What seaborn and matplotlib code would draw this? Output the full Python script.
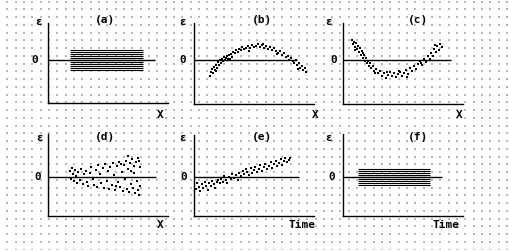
import numpy as np
import pandas as pd
import matplotlib
matplotlib.use("Agg")
import matplotlib.pyplot as plt
import seaborn as sns

# ---------------- data ----------------
panel_titles = ["(a)", "(b)", "(c)", "(d)", "(e)", "(f)"]
x_labels = ["X", "X", "X", "X", "Time", "Time"]
y_label = "ε"
zero_label = "0"

# (a) constant-variance band (horizontal lines)
band_a_y = [1.0, 0.8, 0.6, 0.4, 0.2, 0.0, -0.2, -0.4, -0.6, -0.8, -1.0]
band_a_x = [2.2, 9.5]

# (b) arch-shaped residuals
b_x = [1.6, 1.7, 1.8, 1.9, 2.0, 2.1, 2.2, 2.3, 2.4, 2.5, 2.6, 2.7, 2.8, 2.9, 3.0,
       3.1, 3.2, 3.3, 3.4, 3.5, 3.7, 3.8, 3.9, 4.1, 4.2, 4.4, 4.5, 4.7, 4.8, 5.0,
       5.2, 5.4, 5.6, 5.8, 6.0, 6.2, 6.4, 6.6, 6.8, 7.0, 7.2, 7.4, 7.6, 7.8, 8.0,
       8.2, 8.4, 8.6, 8.8, 9.0, 9.2, 9.4, 9.5, 9.7, 9.9, 10.0, 10.2, 10.3, 10.5,
       10.6, 10.8, 10.9, 11.1, 11.2, 2.2, 3.6, 5.5, 6.9, 8.3, 10.4]
b_y = [-1.6, -1.2, -0.9, -1.3, -0.7, -1.0, -0.5, -0.8, -0.2, -0.5, 0.0, -0.3, 0.1, -0.1, 0.3,
       0.0, 0.2, 0.4, 0.1, 0.5, 0.6, 0.3, 0.8, 0.7, 1.0, 0.8, 1.1, 1.0, 1.3, 1.1,
       1.2, 1.4, 1.2, 1.5, 1.3, 1.4, 1.6, 1.3, 1.5, 1.2, 1.4, 1.1, 1.3, 1.0, 1.2,
       0.9, 0.7, 0.9, 0.5, 0.7, 0.3, 0.4, 0.0, 0.2, -0.1, -0.3, 0.0, -0.5, -0.3,
       -0.8, -0.6, -1.0, -0.8, -1.2, -1.1, 0.1, 0.9, 1.6, 0.6, -0.9]

# (c) U-shaped residuals
c_x = [0.9, 1.0, 1.1, 1.2, 1.3, 1.4, 1.5, 1.6, 1.7, 1.8, 1.9, 2.0, 2.1, 2.2, 2.3,
       2.4, 2.5, 2.6, 2.7, 2.8, 3.0, 3.1, 3.3, 3.5, 3.7, 3.9, 4.1, 4.3, 4.5, 4.7,
       4.9, 5.1, 5.3, 5.5, 5.7, 5.9, 6.1, 6.3, 6.5, 6.7, 6.9, 7.1, 7.3, 7.5, 7.7,
       7.9, 8.1, 8.3, 8.5, 8.7, 8.8, 9.0, 9.1, 9.3, 9.4, 9.6, 9.7, 9.9,
       1.2, 2.0, 3.2, 4.4, 5.6, 6.4, 7.8, 9.2]
c_y = [2.0, 1.6, 1.8, 1.3, 1.7, 1.1, 1.4, 0.8, 1.2, 0.5, 0.9, 0.2, 0.5, -0.1, 0.2,
       -0.3, -0.1, -0.6, -0.3, -0.8, -0.6, -1.1, -0.9, -1.3, -1.1, -1.6, -1.3, -1.8, -1.5, -1.2,
       -1.6, -1.3, -1.7, -1.4, -1.2, -1.6, -1.3, -1.0, -1.4, -0.8, -1.1, -0.6, -0.9, -0.4, -0.1,
       -0.5, 0.1, -0.2, 0.4, 0.1, 0.7, 0.4, 1.1, 0.8, 1.4, 1.0, 1.6, 1.3,
       1.0, 0.7, -1.3, -1.2, -1.1, -1.7, -0.3, 1.5]

# (d) funnel-shaped residuals
d_x = [2.2, 2.3, 2.4, 2.5, 2.6, 2.7, 2.8, 2.9, 3.0, 3.2, 3.3, 3.5, 3.6, 3.8, 3.9,
       4.0, 4.2, 4.3, 4.5, 4.6, 4.8, 4.9, 5.0, 5.2, 5.3, 5.5, 5.6, 5.7, 5.9, 6.0,
       6.1, 6.2, 6.4, 6.5, 6.6, 6.7, 6.9, 7.0, 7.1, 7.2, 7.4, 7.5, 7.6, 7.7, 7.8,
       7.9, 8.0, 8.1, 8.2, 8.3, 8.4, 8.5, 8.6, 8.7, 8.8, 8.9, 9.0, 9.1, 9.2, 9.2,
       9.0, 8.6, 8.3, 7.3, 6.8, 8.0, 9.1]
d_y = [0.6, -0.2, 0.9, 0.3, -0.4, 0.7, 0.1, -0.6, 0.5, -0.3, 0.8, -0.7, 0.3, 0.6, -0.5,
       -0.9, 0.4, 1.0, -0.2, -0.8, 0.7, -1.0, 1.2, 0.3, -0.6, 0.9, -1.1, 1.3, -0.4, 0.6,
       -1.2, 1.0, -0.8, 1.4, 0.2, -1.3, 1.1, -0.5, 1.5, -1.0, 0.5, -1.4, 1.2, -0.2, 1.6,
       -1.2, 0.8, -1.5, 1.4, -0.7, 1.8, -1.1, 0.4, -1.6, 1.5, -0.4, 1.9, -1.8, 1.0, -0.9,
       -1.3, 1.1, 0.6, 1.3, -0.9, 2.1, 1.6]

# (e) residuals trending with time
e_x = [0.2, 0.3, 0.5, 0.6, 0.8, 0.9, 1.1, 1.2, 1.4, 1.5, 1.7, 1.8, 2.0, 2.1, 2.3,
       2.4, 2.6, 2.7, 2.9, 3.0, 3.2, 3.3, 3.5, 3.7, 3.8, 4.0, 4.2, 4.4, 4.5, 4.7,
       4.9, 5.0, 5.2, 5.3, 5.5, 5.7, 5.8, 6.0, 6.1, 6.3, 6.5, 6.6, 6.8, 7.0, 7.1,
       7.3, 7.5, 7.7, 7.8, 8.0, 8.2, 8.3, 8.5, 8.7, 8.8, 9.0, 9.1, 9.3, 9.5, 9.6]
e_y = [-1.2, -0.6, -1.0, -1.4, -0.7, -1.1, -0.5, -0.9, -1.3, -0.6, -0.9, -0.4, -0.7, -1.1, -0.5,
       -0.3, -0.6, -0.2, -0.5, 0.1, -0.3, -0.6, 0.0, -0.2, 0.3, -0.1, 0.2, -0.3, 0.4, 0.1,
       0.6, 0.3, 0.8, 0.5, 0.2, 0.9, 0.4, 0.7, 1.0, 0.5, 0.8, 1.2, 0.6, 1.0, 1.3,
       0.8, 1.1, 1.5, 0.9, 1.3, 1.6, 1.1, 1.4, 1.8, 1.2, 1.6, 1.9, 1.5, 1.7, 1.9]

# (f) constant-variance band over time
band_f_y = [0.8, 0.6, 0.4, 0.2, 0.0, -0.2, -0.4, -0.6, -0.8]
band_f_x = [1.5, 8.7]

# ---------------- styling ----------------
sns.set_theme(style="white")
plt.rcParams["font.family"] = ["DejaVu Sans Mono", "DejaVu Sans"]

W, H = 510, 250
fig = plt.figure(figsize=(W / 100, H / 100), dpi=100)
fig.patch.set_facecolor("white")

# dotted paper background
bg = fig.add_axes([0, 0, 1, 1], zorder=0)
bg.set_xlim(0, W)
bg.set_ylim(H, 0)
bg.axis("off")
gx, gy = np.meshgrid(np.arange(7.3, W, 8.33), np.arange(1.7, H, 7.75))
bg.scatter(gx.ravel(), gy.ravel(), s=0.8, marker="s", color="#b8b8b8", linewidths=0)

FS = 8


def txt(x, y, s, size=FS):
    fig.text(x / W, 1 - y / H, s, ha="center", va="center", fontsize=size,
             fontweight="bold", color="black", family=["DejaVu Sans Mono", "DejaVu Sans"])


def add_panel(left, top, bottom, zero, zero_end):
    ax = fig.add_axes([left / W, 1 - bottom / H, 120 / W, (bottom - top) / H], zorder=2)
    ax.set_xlim(0, 12)
    ax.set_ylim(-(bottom - zero) / 10, (zero - top) / 10)
    ax.patch.set_alpha(0)
    for s in ["top", "right"]:
        ax.spines[s].set_visible(False)
    for s in ["left", "bottom"]:
        ax.spines[s].set_color("black")
        ax.spines[s].set_linewidth(1.0)
    ax.set_xticks([])
    ax.set_yticks([])
    ax.hlines(0, 0, zero_end, color="black", lw=1.0)
    return ax


# geometry of the six panels (pixels): left, top, bottom, zero-line y, zero-line end
geo = [
    (48, 23, 103.5, 60.3, 10.7),
    (194.3, 23, 104.3, 60.3, 10.3),
    (343.3, 23, 104.3, 60.3, 10.8),
    (48, 134, 215.5, 177.3, 10.8),
    (194.3, 135, 215.7, 177.3, 10.5),
    (343.3, 134, 216, 177.3, 9.9),
]
axes = [add_panel(*g) for g in geo]

# (a) band
axes[0].hlines(band_a_y, band_a_x[0], band_a_x[1], color="black", lw=0.8)
# (f) band
axes[5].hlines(band_f_y, band_f_x[0], band_f_x[1], color="black", lw=0.8)

pt_kw = dict(color="black", marker="s", s=1.0, linewidth=0, legend=False)
sns.scatterplot(data=pd.DataFrame({"x": b_x, "e": b_y}), x="x", y="e", ax=axes[1], **pt_kw)
sns.scatterplot(data=pd.DataFrame({"x": c_x, "e": c_y}), x="x", y="e", ax=axes[2], **pt_kw)
sns.scatterplot(data=pd.DataFrame({"x": d_x, "e": d_y}), x="x", y="e", ax=axes[3], **pt_kw)
sns.scatterplot(data=pd.DataFrame({"x": e_x, "e": e_y}), x="x", y="e", ax=axes[4], **pt_kw)
for ax in axes:
    ax.set_xlabel("")
    ax.set_ylabel("")
    ax.set_xticks([])
    ax.set_yticks([])

# texts
title_pos = [(105, 20), (262, 20), (418, 20), (105, 137.5), (262, 137.5), (418, 137.5)]
for t, (x, y) in zip(panel_titles, title_pos):
    txt(x, y, t)

eps_pos = [(39, 22), (183, 22), (329, 22), (39.5, 138), (183, 138), (329, 138)]
for (x, y) in eps_pos:
    txt(x, y, y_label)

zero_pos = [(35, 60), (182.5, 60), (333.5, 60), (38, 177), (184, 177), (332, 177)]
for (x, y) in zero_pos:
    txt(x, y, zero_label)

xl_pos = [(160, 115), (315.7, 115), (459, 115), (160, 225), (302, 225), (446, 225)]
for t, (x, y) in zip(x_labels, xl_pos):
    txt(x, y, t)

fig.savefig("out.png", dpi=100, facecolor="white")
